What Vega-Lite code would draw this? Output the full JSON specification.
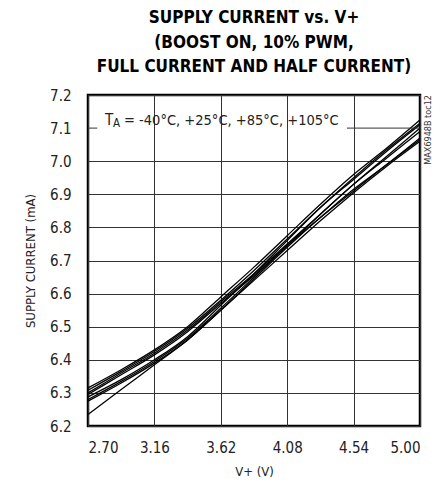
{
  "$schema": "https://vega.github.io/schema/vega-lite/v6.json",
  "width": 332,
  "height": 331,
  "autosize": {"type": "none"},
  "padding": {"left": 88, "top": 95, "right": 25, "bottom": 61},
  "background": "white",
  "title": {
    "text": ["SUPPLY CURRENT vs. V+", "(BOOST ON, 10% PWM,", "FULL CURRENT AND HALF CURRENT)"],
    "font": "'DejaVu Sans Condensed', 'Liberation Sans Narrow', Roboto, sans-serif",
    "fontWeight": "bold",
    "fontSize": 17,
    "lineHeight": 24.5,
    "anchor": "middle",
    "offset": 12,
    "color": "black"
  },
  "config": {
    "view": {"stroke": "black", "strokeWidth": 2.5},
    "axis": {
      "labelFont": "'DejaVu Sans Condensed', 'Liberation Sans Narrow', Roboto, sans-serif",
      "labelFontSize": 15,
      "labelColor": "#222",
      "labelOverlap": false,
      "titleFont": "'DejaVu Sans Condensed', 'Liberation Sans Narrow', Roboto, sans-serif",
      "titleFontSize": 13,
      "titleFontWeight": "normal",
      "titleColor": "#222",
      "domain": false,
      "ticks": false,
      "grid": true,
      "gridColor": "#333",
      "gridWidth": 1,
      "gridOpacity": 1
    }
  },
  "datasets": {
    "curves": [
      {"curve": "1", "v": 2.70, "i": 6.315}, {"curve": "1", "v": 2.93, "i": 6.370}, {"curve": "1", "v": 3.16, "i": 6.430}, {"curve": "1", "v": 3.39, "i": 6.500}, {"curve": "1", "v": 3.62, "i": 6.590}, {"curve": "1", "v": 3.85, "i": 6.680}, {"curve": "1", "v": 4.08, "i": 6.775}, {"curve": "1", "v": 4.31, "i": 6.870}, {"curve": "1", "v": 4.54, "i": 6.960}, {"curve": "1", "v": 4.77, "i": 7.040}, {"curve": "1", "v": 5.00, "i": 7.125},
      {"curve": "2", "v": 2.70, "i": 6.308}, {"curve": "2", "v": 2.93, "i": 6.365}, {"curve": "2", "v": 3.16, "i": 6.425}, {"curve": "2", "v": 3.39, "i": 6.495}, {"curve": "2", "v": 3.62, "i": 6.580}, {"curve": "2", "v": 3.85, "i": 6.670}, {"curve": "2", "v": 4.08, "i": 6.765}, {"curve": "2", "v": 4.31, "i": 6.860}, {"curve": "2", "v": 4.54, "i": 6.950}, {"curve": "2", "v": 4.77, "i": 7.035}, {"curve": "2", "v": 5.00, "i": 7.115},
      {"curve": "3", "v": 2.70, "i": 6.300}, {"curve": "3", "v": 2.93, "i": 6.360}, {"curve": "3", "v": 3.16, "i": 6.420}, {"curve": "3", "v": 3.39, "i": 6.490}, {"curve": "3", "v": 3.62, "i": 6.575}, {"curve": "3", "v": 3.85, "i": 6.660}, {"curve": "3", "v": 4.08, "i": 6.750}, {"curve": "3", "v": 4.31, "i": 6.840}, {"curve": "3", "v": 4.54, "i": 6.930}, {"curve": "3", "v": 4.77, "i": 7.010}, {"curve": "3", "v": 5.00, "i": 7.090},
      {"curve": "4", "v": 2.70, "i": 6.295}, {"curve": "4", "v": 2.93, "i": 6.355}, {"curve": "4", "v": 3.16, "i": 6.415}, {"curve": "4", "v": 3.39, "i": 6.485}, {"curve": "4", "v": 3.62, "i": 6.570}, {"curve": "4", "v": 3.85, "i": 6.655}, {"curve": "4", "v": 4.08, "i": 6.745}, {"curve": "4", "v": 4.31, "i": 6.830}, {"curve": "4", "v": 4.54, "i": 6.915}, {"curve": "4", "v": 4.77, "i": 6.990}, {"curve": "4", "v": 5.00, "i": 7.070},
      {"curve": "5", "v": 2.70, "i": 6.288}, {"curve": "5", "v": 2.93, "i": 6.340}, {"curve": "5", "v": 3.16, "i": 6.400}, {"curve": "5", "v": 3.39, "i": 6.470}, {"curve": "5", "v": 3.62, "i": 6.565}, {"curve": "5", "v": 3.85, "i": 6.660}, {"curve": "5", "v": 4.08, "i": 6.760}, {"curve": "5", "v": 4.31, "i": 6.860}, {"curve": "5", "v": 4.54, "i": 6.945}, {"curve": "5", "v": 4.77, "i": 7.030}, {"curve": "5", "v": 5.00, "i": 7.110},
      {"curve": "6", "v": 2.70, "i": 6.280}, {"curve": "6", "v": 2.93, "i": 6.335}, {"curve": "6", "v": 3.16, "i": 6.395}, {"curve": "6", "v": 3.39, "i": 6.465}, {"curve": "6", "v": 3.62, "i": 6.556}, {"curve": "6", "v": 3.85, "i": 6.650}, {"curve": "6", "v": 4.08, "i": 6.745}, {"curve": "6", "v": 4.31, "i": 6.840}, {"curve": "6", "v": 4.54, "i": 6.930}, {"curve": "6", "v": 4.77, "i": 7.015}, {"curve": "6", "v": 5.00, "i": 7.100},
      {"curve": "7", "v": 2.70, "i": 6.275}, {"curve": "7", "v": 2.93, "i": 6.330}, {"curve": "7", "v": 3.16, "i": 6.390}, {"curve": "7", "v": 3.39, "i": 6.460}, {"curve": "7", "v": 3.62, "i": 6.550}, {"curve": "7", "v": 3.85, "i": 6.640}, {"curve": "7", "v": 4.08, "i": 6.730}, {"curve": "7", "v": 4.31, "i": 6.820}, {"curve": "7", "v": 4.54, "i": 6.905}, {"curve": "7", "v": 4.77, "i": 6.985}, {"curve": "7", "v": 5.00, "i": 7.060},
      {"curve": "8", "v": 2.70, "i": 6.235}, {"curve": "8", "v": 2.93, "i": 6.310}, {"curve": "8", "v": 3.16, "i": 6.385}, {"curve": "8", "v": 3.39, "i": 6.460}, {"curve": "8", "v": 3.62, "i": 6.550}, {"curve": "8", "v": 3.85, "i": 6.645}, {"curve": "8", "v": 4.08, "i": 6.740}, {"curve": "8", "v": 4.31, "i": 6.830}, {"curve": "8", "v": 4.54, "i": 6.910}, {"curve": "8", "v": 4.77, "i": 6.990}, {"curve": "8", "v": 5.00, "i": 7.065}
    ],
    "anno": [{"label": "annotation"}]
  },
  "layer": [
    {
      "data": {"name": "curves"},
      "mark": {"type": "line", "color": "black", "strokeWidth": 1.3, "interpolate": "monotone"},
      "encoding": {
        "x": {
          "field": "v", "type": "quantitative",
          "scale": {"domain": [2.7, 5.0], "nice": false, "zero": false},
          "axis": {"title": "V+ (V)", "values": [2.70, 3.16, 3.62, 4.08, 4.54, 5.00], "tickCount": 20, "format": ".2f", "labelPadding": 14, "titlePadding": 10, "labelOverlap": false}
        },
        "y": {
          "field": "i", "type": "quantitative",
          "scale": {"domain": [6.2, 7.2], "nice": false, "zero": false},
          "axis": {
            "title": "SUPPLY CURRENT (mA)",
            "values": [6.2, 6.3, 6.4, 6.5, 6.6, 6.7, 6.8, 6.9, 7.0, 7.1, 7.2],
            "tickCount": 20,
            "format": ".1f",
            "labelOverlap": false,
            "labelPadding": 17,
            "titlePadding": 12,
            "gridOpacity": {"condition": {"test": "abs(datum.value - 7.1) < 0.001", "value": 0}, "value": 1}
          }
        },
        "detail": {"field": "curve"}
      }
    },
    {
      "data": {"name": "anno"},
      "mark": {"type": "rule", "color": "#333", "strokeWidth": 1},
      "encoding": {"x": {"datum": 2.7}, "x2": {"datum": 2.764}, "y": {"datum": 7.1}}
    },
    {
      "data": {"name": "anno"},
      "mark": {"type": "rule", "color": "#333", "strokeWidth": 1},
      "encoding": {"x": {"datum": 4.494}, "x2": {"datum": 5.0}, "y": {"datum": 7.1}}
    },
    {
      "data": {"name": "anno"},
      "mark": {"type": "text", "text": "T", "font": "'DejaVu Sans Condensed', 'Liberation Sans Narrow', Roboto, sans-serif", "fontSize": 15, "align": "left", "baseline": "alphabetic", "color": "#222"},
      "encoding": {"x": {"datum": 2.818}, "y": {"datum": 7.109}}
    },
    {
      "data": {"name": "anno"},
      "mark": {"type": "text", "text": "A", "font": "'DejaVu Sans Condensed', 'Liberation Sans Narrow', Roboto, sans-serif", "fontSize": 11.5, "align": "left", "baseline": "alphabetic", "dx": 8, "dy": 2, "color": "#222"},
      "encoding": {"x": {"datum": 2.818}, "y": {"datum": 7.109}}
    },
    {
      "data": {"name": "anno"},
      "mark": {"type": "text", "text": "= -40°C, +25°C, +85°C, +105°C", "font": "'DejaVu Sans Condensed', 'Liberation Sans Narrow', Roboto, sans-serif", "fontSize": 14.5, "align": "left", "baseline": "alphabetic", "dx": 19, "color": "#222"},
      "encoding": {"x": {"datum": 2.818}, "y": {"datum": 7.109}}
    },
    {
      "data": {"name": "anno"},
      "mark": {"type": "text", "text": "MAX6948B toc12", "font": "'DejaVu Sans Condensed', 'Liberation Sans Narrow', Roboto, sans-serif", "fontSize": 9, "angle": 270, "align": "right", "baseline": "top", "dy": 4, "color": "#333"},
      "encoding": {"x": {"datum": 5.0}, "y": {"datum": 7.2}}
    }
  ]
}
